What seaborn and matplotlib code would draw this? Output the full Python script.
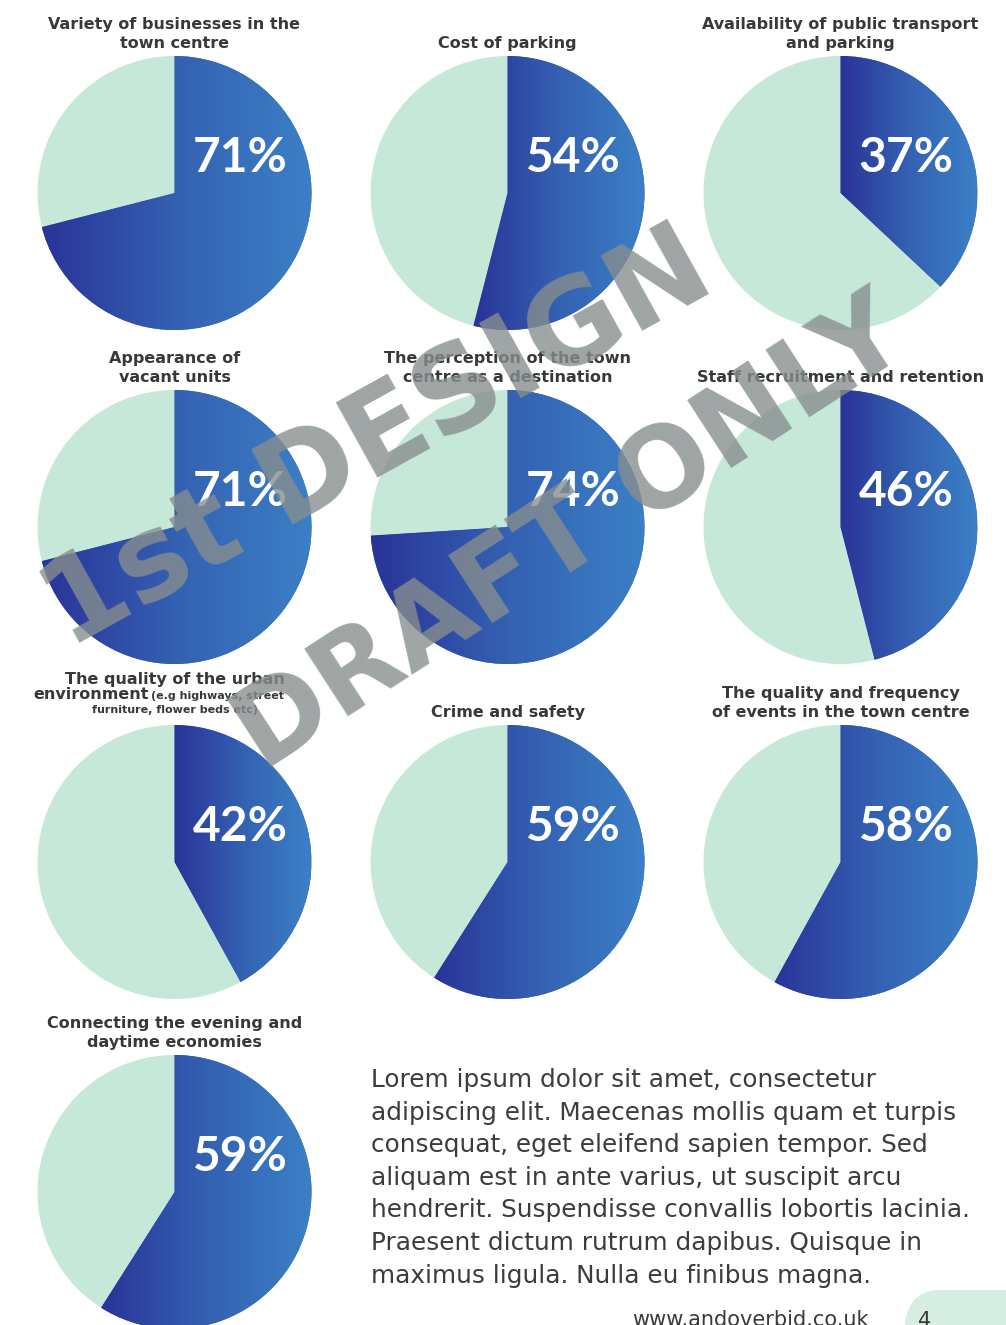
import numpy as np
import matplotlib
matplotlib.use("Agg")
import matplotlib.pyplot as plt
import seaborn as sns
from matplotlib.colors import LinearSegmentedColormap
from matplotlib.patches import FancyBboxPatch

sns.set_theme(style="white")
plt.rcParams['font.family'] = ['DejaVu Sans']

# ---------------- data ----------------
titles = [
    "Variety of businesses in the\ntown centre",
    "Cost of parking",
    "Availability of public transport\nand parking",
    "Appearance of\nvacant units",
    "The perception of the town\ncentre as a destination",
    "Staff recruitment and retention",
    "",  # custom multi-size title drawn separately
    "Crime and safety",
    "The quality and frequency\nof events in the town centre",
    "Connecting the evening and\ndaytime economies",
]
values = [71, 54, 37, 71, 74, 46, 42, 59, 58, 59]
pct_labels = ["71%", "54%", "37%", "71%", "74%", "46%", "42%", "59%", "58%", "59%"]

urban_line1 = "The quality of the urban"
urban_line2a = "environment"
urban_line2b = "(e.g highways, street"
urban_line3 = "furniture, flower beds etc)"

lorem_lines = [
    "Lorem ipsum dolor sit amet, consectetur",
    "adipiscing elit. Maecenas mollis quam et turpis",
    "consequat, eget eleifend sapien tempor. Sed",
    "aliquam est in ante varius, ut suscipit arcu",
    "hendrerit. Suspendisse convallis lobortis lacinia.",
    "Praesent dictum rutrum dapibus. Quisque in",
    "maximus ligula. Nulla eu finibus magna.",
]
footer_url = "www.andoverbid.co.uk"
page_number = "4"
watermark_1 = "1st DESIGN"
watermark_2 = "DRAFT ONLY"

# ---------------- style ----------------
W, H = 1006, 1325
MINT = "#c6e8d8"
TITLE_C = "#383838"
TITLE_FS = 11.5
grad_cmap = LinearSegmentedColormap.from_list("bl", ["#2a3398", "#3461b2", "#3b80c6"])

fig = plt.figure(figsize=(W / 100, H / 100), dpi=100)
fig.patch.set_facecolor("white")

col_x = [174.5, 507.5, 840.5]
row_y = [193, 527, 862, 1192]
R = 137


def fx(x):
    return x / W


def fy(y):
    return 1 - y / H


for i, (t, v, lab) in enumerate(zip(titles, values, pct_labels)):
    cx = col_x[i % 3]
    cy = row_y[i // 3]
    ax = fig.add_axes([fx(cx - R), fy(cy + R), 2 * R / W, 2 * R / H])
    wedges, _ = ax.pie([v, 100 - v], colors=["#3461b2", MINT], startangle=90,
                       counterclock=False, radius=1,
                       wedgeprops=dict(linewidth=0))
    blue = wedges[0]
    ext = blue.get_path().get_extents()
    grad = np.linspace(0, 1, 256).reshape(1, -1)
    im = ax.imshow(grad, cmap=grad_cmap, extent=[ext.x0, ext.x1, -1, 1],
                   aspect="auto", zorder=blue.get_zorder() + 0.1,
                   interpolation="bilinear")
    im.set_clip_path(blue)
    ax.set_xlim(-1, 1)
    ax.set_ylim(-1, 1)
    ax.set_axis_off()
    ax.text(0.48, 0.255, lab, ha="center", va="center", color="white",
            fontsize=34.5, fontweight="bold", family="Lato", zorder=5)
    if t:
        fig.text(fx(cx), fy(cy - R - 8), t, ha="center", va="baseline",
                 fontsize=TITLE_FS, fontweight="bold", color=TITLE_C,
                 linespacing=1.3)

# custom urban environment title
fig.text(fx(174.5), fy(684), urban_line1, ha="center", va="baseline",
         fontsize=TITLE_FS, fontweight="bold", color=TITLE_C)
fig.text(fx(149), fy(699), urban_line2a, ha="right", va="baseline",
         fontsize=TITLE_FS, fontweight="bold", color=TITLE_C)
fig.text(fx(151), fy(699), urban_line2b, ha="left", va="baseline",
         fontsize=8, fontweight="bold", color=TITLE_C)
fig.text(fx(174.5), fy(713), urban_line3, ha="center", va="baseline",
         fontsize=8, fontweight="bold", color=TITLE_C)

# lorem paragraph
for k, line in enumerate(lorem_lines):
    fig.text(fx(371), fy(1080 + k * 32.6), line, ha="left", va="center",
             fontsize=17.8, color="#3c3c3c")

# footer
tab = FancyBboxPatch((fx(904), fy(1420)), fx(220), 130 / H,
                     boxstyle="round,pad=0,rounding_size=0.035",
                     transform=fig.transFigure, facecolor="#d6eee2",
                     edgecolor="none", zorder=1)
fig.patches.append(tab)
fig.text(fx(750), fy(1320), footer_url, ha="center", va="center",
         fontsize=15, color="#3a3a3a")
fig.text(fx(925), fy(1321), page_number, ha="center", va="center",
         fontsize=15, color="#3a3a3a")

# watermark
fig.text(fx(378), fy(440), watermark_1, ha="center", va="center",
         rotation=29, rotation_mode="anchor", fontsize=84,
         fontweight="bold", family="DejaVu Sans", color="#878e8e",
         alpha=0.8, zorder=20)
fig.text(fx(572), fy(535), watermark_2, ha="center", va="center",
         rotation=33, rotation_mode="anchor", fontsize=80,
         fontweight="bold", family="DejaVu Sans", color="#878e8e",
         alpha=0.8, zorder=20)

fig.savefig("out.png", dpi=100)
